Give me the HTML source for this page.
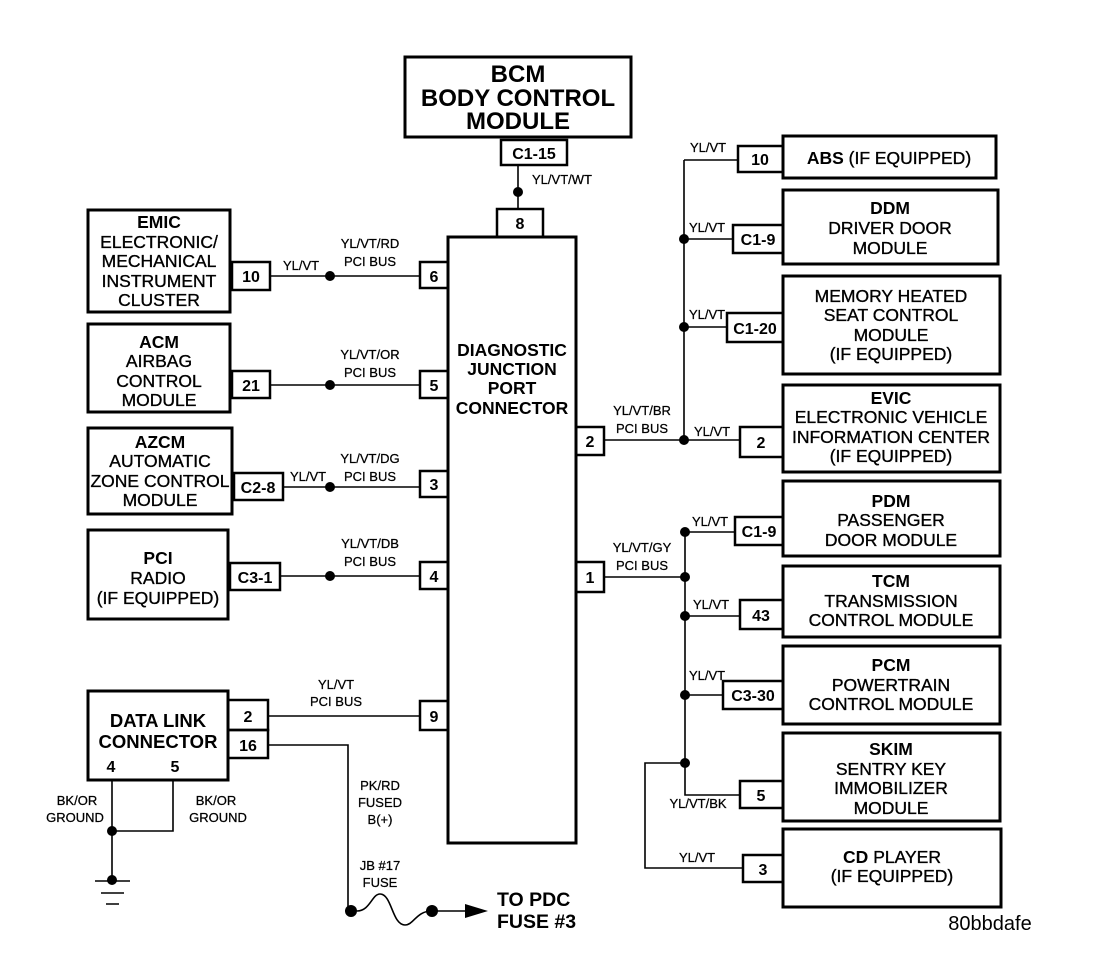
<!DOCTYPE html>
<html><head><meta charset="utf-8"><style>
html,body{margin:0;padding:0;background:#fff}
svg{display:block}
text{font-family:"Liberation Sans",Arial,sans-serif;fill:#000}
.m{font-size:17.5px;text-anchor:middle;stroke:#000;stroke-width:0.35}
.b{font-weight:bold;stroke-width:0}
.p{font-size:16px;font-weight:bold;text-anchor:middle}
.w{font-size:13px;text-anchor:middle;stroke:#000;stroke-width:0.25}
</style></head><body>
<svg width="1120" height="960" viewBox="0 0 1120 960" xmlns="http://www.w3.org/2000/svg">
<g fill="none" stroke="#000">
<g stroke-width="3">
<rect x="405" y="57" width="226" height="80"/>
<rect x="448" y="237" width="128" height="606"/>
<rect x="88" y="210" width="142" height="102"/>
<rect x="88" y="324" width="142" height="88"/>
<rect x="88" y="428" width="144" height="86"/>
<rect x="88" y="530" width="140" height="89"/>
<rect x="88" y="691" width="140" height="89"/>
<rect x="783" y="136" width="213" height="42"/>
<rect x="783" y="190" width="215" height="74"/>
<rect x="783" y="276" width="217" height="98"/>
<rect x="783" y="385" width="217" height="87"/>
<rect x="783" y="481" width="217" height="75"/>
<rect x="783" y="566" width="217" height="71"/>
<rect x="783" y="646" width="217" height="78"/>
<rect x="783" y="733" width="217" height="88"/>
<rect x="783" y="829" width="218" height="78"/>
</g>
<g stroke-width="2.5">
<rect x="501" y="140" width="66" height="25"/>
<rect x="497" y="209" width="46" height="28"/>
<rect x="420" y="262" width="28" height="26"/>
<rect x="420" y="371" width="28" height="27"/>
<rect x="420" y="471" width="28" height="26"/>
<rect x="420" y="562" width="28" height="27"/>
<rect x="420" y="701" width="28" height="29"/>
<rect x="232" y="262" width="38" height="28"/>
<rect x="232" y="371" width="38" height="27"/>
<rect x="234" y="473" width="49" height="27"/>
<rect x="230" y="563" width="50" height="27"/>
<rect x="228" y="700" width="40" height="30"/>
<rect x="228" y="730" width="40" height="28"/>
<rect x="576" y="427" width="28" height="28"/>
<rect x="576" y="562" width="28" height="30"/>
<rect x="738" y="146" width="45" height="26"/>
<rect x="733" y="225" width="50" height="28"/>
<rect x="727" y="313" width="56" height="29"/>
<rect x="740" y="427" width="43" height="30"/>
<rect x="735" y="517" width="48" height="28"/>
<rect x="740" y="600" width="43" height="29"/>
<rect x="723" y="681" width="60" height="28"/>
<rect x="740" y="781" width="43" height="27"/>
<rect x="743" y="855" width="40" height="27"/>
</g>
<g stroke-width="1.6">
<path d="M518 165V209"/>
<path d="M270 276H420M270 385H420M283 487H420M280 576H420M268 716H420"/>
<path d="M268 745H348V911"/>
<path d="M604 440H740M684 160V440M684 160H738M684 239H733M684 327H727"/>
<path d="M604 577H685M685 532V795H740M685 532H735M685 616H740M685 695H723"/>
<path d="M685 763H645V868H743"/>
<path d="M112 780V881M173 780V831H112"/>
<path d="M95 881H130M101 893H124M106 904H119"/>
<path d="M357 911C370 911 372 894 380 894C392 894 392 925 405 925C414 925 416 911 432 911H470"/>
</g>
</g>
<polygon points="465,904 488,911 465,918" fill="#000"/>
<g fill="#000">
<circle cx="518" cy="192" r="5"/>
<circle cx="330" cy="276" r="5"/><circle cx="330" cy="385" r="5"/>
<circle cx="330" cy="487" r="5"/><circle cx="330" cy="576" r="5"/>
<circle cx="684" cy="239" r="5"/><circle cx="684" cy="327" r="5"/><circle cx="684" cy="440" r="5"/>
<circle cx="685" cy="532" r="5"/><circle cx="685" cy="577" r="5"/><circle cx="685" cy="616" r="5"/>
<circle cx="685" cy="695" r="5"/><circle cx="685" cy="763" r="5"/>
<circle cx="112" cy="831" r="5"/><circle cx="112" cy="880" r="5"/>
<circle cx="351" cy="911" r="6"/><circle cx="432" cy="911" r="6"/>
</g>
<text class="m b" x="518" y="82" style="font-size:24px">BCM</text>
<text class="m b" x="518" y="106" style="font-size:24px">BODY CONTROL</text>
<text class="m b" x="518" y="129" style="font-size:24px">MODULE</text>
<text class="p" x="534" y="159">C1-15</text>
<text class="w" x="562" y="184">YL/VT/WT</text>
<text class="p" x="520" y="229">8</text>
<text class="m b" x="512" y="356">DIAGNOSTIC</text>
<text class="m b" x="512" y="375">JUNCTION</text>
<text class="m b" x="512" y="394">PORT</text>
<text class="m b" x="512" y="414">CONNECTOR</text>
<text class="p" x="434" y="282">6</text><text class="p" x="434" y="391">5</text>
<text class="p" x="434" y="490">3</text><text class="p" x="434" y="582">4</text>
<text class="p" x="434" y="722">9</text>
<text class="p" x="251" y="282">10</text><text class="p" x="251" y="391">21</text>
<text class="p" x="258" y="493">C2-8</text><text class="p" x="255" y="583">C3-1</text>
<text class="p" x="248" y="722">2</text><text class="p" x="248" y="751">16</text>
<text class="m b" x="159" y="228">EMIC</text>
<text class="m" x="159" y="248">ELECTRONIC/</text>
<text class="m" x="159" y="267">MECHANICAL</text>
<text class="m" x="159" y="287">INSTRUMENT</text>
<text class="m" x="159" y="306">CLUSTER</text>
<text class="m b" x="159" y="348">ACM</text>
<text class="m" x="159" y="367">AIRBAG</text>
<text class="m" x="159" y="387">CONTROL</text>
<text class="m" x="159" y="406">MODULE</text>
<text class="m b" x="160" y="448">AZCM</text>
<text class="m" x="160" y="467">AUTOMATIC</text>
<text class="m" x="160" y="487">ZONE CONTROL</text>
<text class="m" x="160" y="506">MODULE</text>
<text class="m b" x="158" y="564">PCI</text>
<text class="m" x="158" y="584">RADIO</text>
<text class="m" x="158" y="604">(IF EQUIPPED)</text>
<text class="m b" x="158" y="727" style="font-size:18.5px">DATA LINK</text>
<text class="m b" x="158" y="748" style="font-size:18.5px">CONNECTOR</text>
<text class="p" x="111" y="772">4</text><text class="p" x="175" y="772">5</text>
<text class="w" x="301" y="270">YL/VT</text>
<text class="w" x="370" y="248">YL/VT/RD</text><text class="w" x="370" y="266">PCI BUS</text>
<text class="w" x="370" y="359">YL/VT/OR</text><text class="w" x="370" y="377">PCI BUS</text>
<text class="w" x="308" y="481">YL/VT</text>
<text class="w" x="370" y="463">YL/VT/DG</text><text class="w" x="370" y="481">PCI BUS</text>
<text class="w" x="370" y="548">YL/VT/DB</text><text class="w" x="370" y="566">PCI BUS</text>
<text class="w" x="336" y="689">YL/VT</text><text class="w" x="336" y="706">PCI BUS</text>
<text class="w" x="77" y="805">BK/OR</text><text class="w" x="75" y="822">GROUND</text>
<text class="w" x="216" y="805">BK/OR</text><text class="w" x="218" y="822">GROUND</text>
<text class="w" x="380" y="790">PK/RD</text><text class="w" x="380" y="807">FUSED</text><text class="w" x="380" y="824">B(+)</text>
<text class="w" x="380" y="870">JB #17</text><text class="w" x="380" y="887">FUSE</text>
<text class="b" x="497" y="906" style="font-size:19.5px">TO PDC</text>
<text class="b" x="497" y="928" style="font-size:19.5px">FUSE #3</text>
<text class="p" x="590" y="447">2</text><text class="p" x="590" y="583">1</text>
<text class="p" x="760" y="165">10</text><text class="p" x="758" y="245">C1-9</text>
<text class="p" x="755" y="334">C1-20</text><text class="p" x="761" y="448">2</text>
<text class="p" x="759" y="537">C1-9</text><text class="p" x="761" y="621">43</text>
<text class="p" x="753" y="701">C3-30</text><text class="p" x="761" y="801">5</text>
<text class="p" x="763" y="875">3</text>
<text class="w" x="708" y="152">YL/VT</text>
<text class="w" x="707" y="232">YL/VT</text>
<text class="w" x="707" y="319">YL/VT</text>
<text class="w" x="712" y="436">YL/VT</text>
<text class="w" x="642" y="415">YL/VT/BR</text><text class="w" x="642" y="433">PCI BUS</text>
<text class="w" x="642" y="552">YL/VT/GY</text><text class="w" x="642" y="570">PCI BUS</text>
<text class="w" x="710" y="526">YL/VT</text>
<text class="w" x="711" y="609">YL/VT</text>
<text class="w" x="707" y="680">YL/VT</text>
<text class="w" x="698" y="808">YL/VT/BK</text>
<text class="w" x="697" y="862">YL/VT</text>
<text class="m" x="889" y="164"><tspan class="b">ABS</tspan> (IF EQUIPPED)</text>
<text class="m b" x="890" y="214">DDM</text>
<text class="m" x="890" y="234">DRIVER DOOR</text>
<text class="m" x="890" y="254">MODULE</text>
<text class="m" x="891" y="302">MEMORY HEATED</text>
<text class="m" x="891" y="321">SEAT CONTROL</text>
<text class="m" x="891" y="341">MODULE</text>
<text class="m" x="891" y="360">(IF EQUIPPED)</text>
<text class="m b" x="891" y="404">EVIC</text>
<text class="m" x="891" y="423">ELECTRONIC VEHICLE</text>
<text class="m" x="891" y="443">INFORMATION CENTER</text>
<text class="m" x="891" y="462">(IF EQUIPPED)</text>
<text class="m b" x="891" y="507">PDM</text>
<text class="m" x="891" y="526">PASSENGER</text>
<text class="m" x="891" y="546">DOOR MODULE</text>
<text class="m b" x="891" y="587">TCM</text>
<text class="m" x="891" y="607">TRANSMISSION</text>
<text class="m" x="891" y="626">CONTROL MODULE</text>
<text class="m b" x="891" y="671">PCM</text>
<text class="m" x="891" y="691">POWERTRAIN</text>
<text class="m" x="891" y="710">CONTROL MODULE</text>
<text class="m b" x="891" y="755">SKIM</text>
<text class="m" x="891" y="775">SENTRY KEY</text>
<text class="m" x="891" y="794">IMMOBILIZER</text>
<text class="m" x="891" y="814">MODULE</text>
<text class="m" x="892" y="863"><tspan class="b">CD</tspan> PLAYER</text>
<text class="m" x="892" y="882">(IF EQUIPPED)</text>
<text x="990" y="930" style="font-size:20px;text-anchor:middle">80bbdafe</text>
</svg>
</body></html>
